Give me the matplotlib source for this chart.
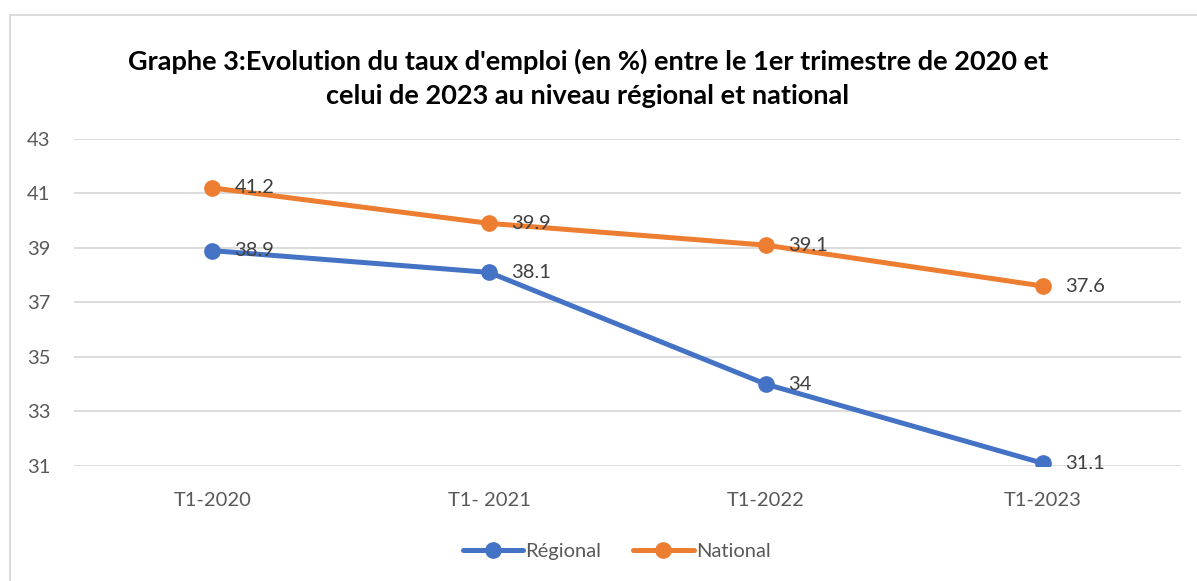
import matplotlib.pyplot as plt
from matplotlib.patches import Rectangle

plt.rcParams['font.family'] = ['Lato', 'DejaVu Sans']

# Données
periodes = ['T1-2020', 'T1- 2021', 'T1-2022', 'T1-2023']
regional = [38.9, 38.1, 34, 31.1]
national = [41.2, 39.9, 39.1, 37.6]
labels_regional = ['38.9', '38.1', '34', '31.1']
labels_national = ['41.2', '39.9', '39.1', '37.6']
yticks = [31, 33, 35, 37, 39, 41, 43]

bleu = '#4472C4'
orange = '#ED7D31'
gris = '#595959'

fig = plt.figure(figsize=(11.97, 5.81), dpi=100)
ax = fig.add_axes([0.0618, 0.198, 0.925, 0.563])

x = range(len(periodes))
ax.plot(x, regional, color=bleu, lw=3.6, marker='o', ms=11, label='Régional',
        solid_capstyle='round', zorder=3)
ax.plot(x, national, color=orange, lw=3.6, marker='o', ms=11, label='National',
        solid_capstyle='round', zorder=3)

for xi, v, t in zip(x, regional, labels_regional):
    ax.annotate(t, (xi, v), xytext=(16, 0), textcoords='offset points',
                va='center', ha='left', fontsize=14.5, color='#404040', zorder=4)
for xi, v, t in zip(x, national, labels_national):
    ax.annotate(t, (xi, v), xytext=(16, 0), textcoords='offset points',
                va='center', ha='left', fontsize=14.5, color='#404040', zorder=4)

ax.set_xlim(-0.5, 3.5)
ax.set_ylim(31, 43)
ax.set_yticks(yticks)
ax.set_xticks(list(x))
ax.set_xticklabels(periodes)
ax.tick_params(length=0, labelsize=14.5, labelcolor=gris)
ax.tick_params(axis='x', pad=19)
ax.tick_params(axis='y', pad=17)
ax.grid(axis='y', color='#D9D9D9', lw=1.3)
ax.set_axisbelow(True)
for s in ax.spines.values():
    s.set_visible(False)

fig.text(0.491, 0.866, "Graphe 3:Evolution du taux d'emploi (en %) entre le 1er trimestre de 2020 et\n"
         "celui de 2023 au niveau régional et national",
         ha='center', va='center', fontsize=19.5, fontweight='bold', color='black',
         linespacing=1.5)

ax.legend(loc='center', bbox_to_anchor=(0.49, -0.26), ncol=2, frameon=False,
          fontsize=14.5, labelcolor=gris, handlelength=3.0, handletextpad=0.1,
          columnspacing=1.6)

fig.patches.append(Rectangle((0.0084, -0.05), 1.0, 1.025, transform=fig.transFigure,
                             fill=False, ec='#D9D9D9', lw=1.3))

fig.savefig('out.png', dpi=100)
